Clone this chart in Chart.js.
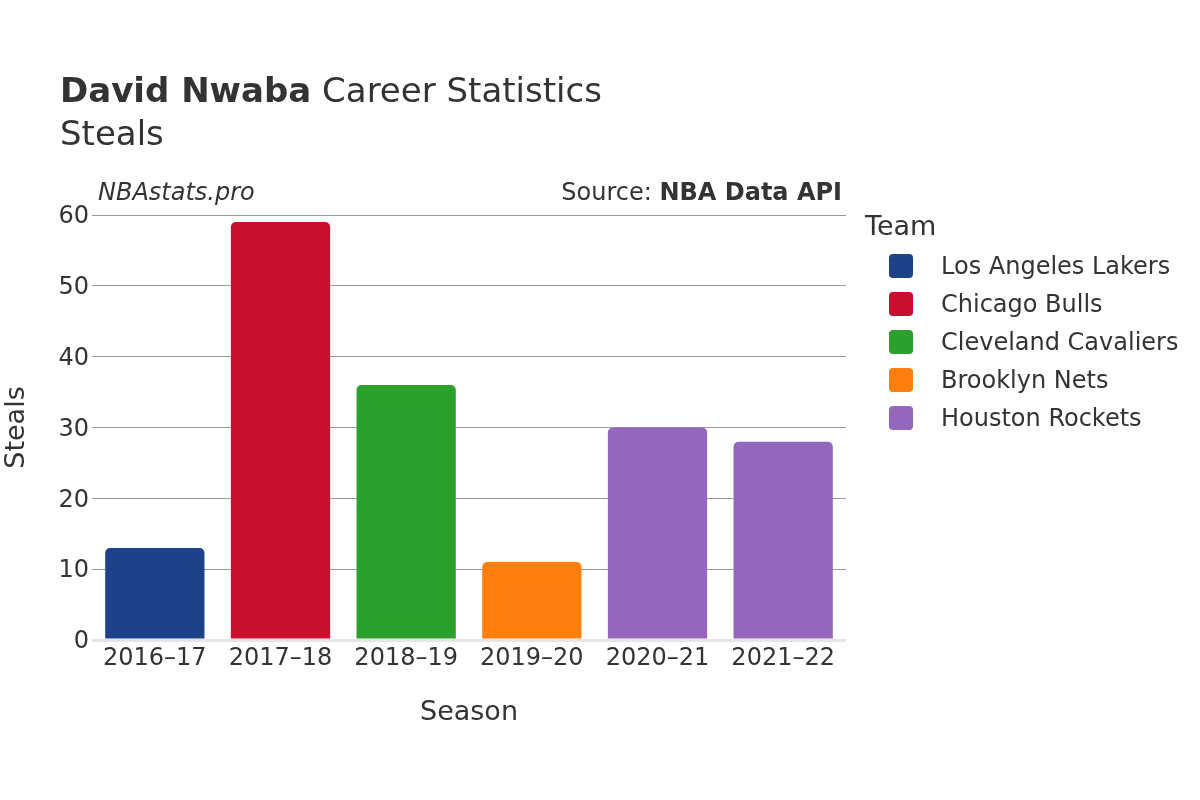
<!DOCTYPE html>
<html>
<head>
<meta charset="utf-8">
<script src="https://cdn.jsdelivr.net/npm/chart.js@4/dist/chart.umd.min.js"></script>
<style>
  html, body { margin: 0; padding: 0; background: #fff; }
  #wrap { width: 1200px; height: 800px; }
</style>
</head>
<body>
<div id="wrap"><canvas id="stealsChart" width="1200" height="800"></canvas></div>
<script>
const seasons = ['2016–17', '2017–18', '2018–19', '2019–20', '2020–21', '2021–22'];
const steals = [13, 59, 36, 11, 30, 28];
const seasonTeams = ['Los Angeles Lakers', 'Chicago Bulls', 'Cleveland Cavaliers', 'Brooklyn Nets', 'Houston Rockets', 'Houston Rockets'];

const teams = ['Los Angeles Lakers', 'Chicago Bulls', 'Cleveland Cavaliers', 'Brooklyn Nets', 'Houston Rockets'];
const teamColors = ['#1d428a', '#c8102e', '#2ca02c', '#ff7f0e', '#9467bd'];

const yTicks = [0, 10, 20, 30, 40, 50, 60];

const textColor = '#333';
const fontFamily = '"DejaVu Sans", sans-serif';

// titles, watermark, source and the team legend
const annotations = {
    id: 'annotations',
    afterDraw(chart) {
        const ctx = chart.ctx;
        ctx.save();
        ctx.fillStyle = textColor;
        ctx.textBaseline = 'alphabetic';
        ctx.textAlign = 'left';

        ctx.font = 'bold 34px ' + fontFamily;
        ctx.fillText('David Nwaba', 60, 102);
        const w = ctx.measureText('David Nwaba').width;
        ctx.font = '34px ' + fontFamily;
        ctx.fillText(' Career Statistics', 60 + w, 102);
        ctx.fillText('Steals', 60, 145);

        ctx.font = 'italic 24px ' + fontFamily;
        ctx.fillText('NBAstats.pro', 98, 200);

        ctx.textAlign = 'right';
        ctx.font = 'bold 24px ' + fontFamily;
        ctx.fillText('NBA Data API', 842, 200);
        const bw = ctx.measureText('NBA Data API').width;
        ctx.font = '24px ' + fontFamily;
        ctx.fillText('Source: ', 842 - bw, 200);

        // legend
        ctx.textAlign = 'left';
        ctx.textBaseline = 'middle';
        ctx.font = '27px ' + fontFamily;
        ctx.fillText('Team', 865, 228);
        ctx.font = '24px ' + fontFamily;
        teams.forEach((t, i) => {
            const cy = 266 + i * 38;
            ctx.fillStyle = teamColors[i];
            ctx.beginPath();
            ctx.roundRect(889, cy - 12, 24, 24, 4);
            ctx.fill();
            ctx.fillStyle = textColor;
            ctx.fillText(t, 941, cy + 2);
        });
        ctx.restore();
    }
};

const barColors = seasonTeams.map(t => teamColors[teams.indexOf(t)]);

const stealsData = {
    labels: seasons,
    datasets: [{
        label: 'Steals',
        data: steals,
        backgroundColor: barColors,
        borderRadius: 5,
        borderSkipped: 'bottom',
        categoryPercentage: 1,
        barPercentage: 0.79
    }]
};

const stealsChartConfig = {
    type: 'bar',
    data: stealsData,
    plugins: [annotations],
    options: {
        responsive: false,
        animation: false,
        layout: {
            padding: { top: 215, right: 354, bottom: 0, left: 0 }
        },
        plugins: {
            legend: { display: false },
            tooltip: { enabled: false },
            title: { display: false }
        },
        scales: {
            x: {
                grid: { display: false, drawTicks: false },
                border: { display: false },
                ticks: {
                    color: textColor,
                    padding: 4,
                    font: { family: fontFamily, size: 24 },
                    maxRotation: 0
                },
                title: {
                    display: true,
                    text: 'Season',
                    color: textColor,
                    font: { family: fontFamily, size: 27 },
                    padding: { top: 0, bottom: 71 }
                },
                afterFit(scale) { scale.height = 160; }
            },
            y: {
                min: 0,
                max: 60,
                afterBuildTicks(scale) { scale.ticks = yTicks.map(v => ({ value: v })); },
                grid: {
                    drawTicks: false,
                    color: c => c.tick && c.tick.value === 0 ? '#e6e6e6' : '#9a9a9a',
                    lineWidth: c => c.tick && c.tick.value === 0 ? 3 : 1
                },
                border: { display: false },
                ticks: {
                    color: textColor,
                    padding: 3,
                    labelOffset: 2,
                    font: { family: fontFamily, size: 24 }
                },
                title: {
                    display: true,
                    text: 'Steals',
                    color: textColor,
                    font: { family: fontFamily, size: 27 },
                    padding: { top: 1, bottom: 0 }
                },
                afterFit(scale) { scale.width = 92; }
            }
        }
    }
};

window.onload = function () {
    const ctx = document.getElementById('stealsChart').getContext('2d');
    new Chart(ctx, stealsChartConfig);
};
</script>
</body>
</html>
